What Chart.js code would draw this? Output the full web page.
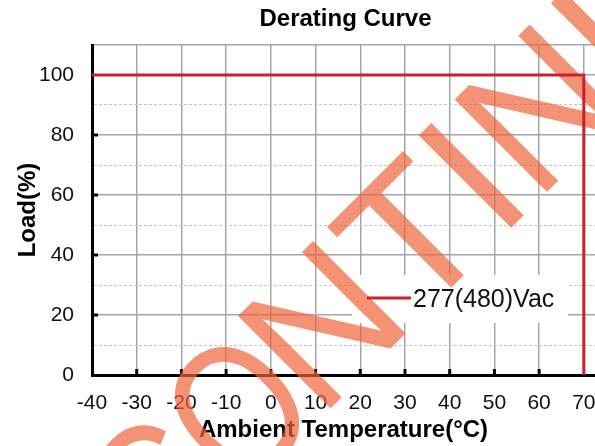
<!DOCTYPE html>
<html>
<head>
<meta charset="utf-8">
<title>Derating Curve</title>
<script src="https://cdn.jsdelivr.net/npm/chart.js@4.4.0/dist/chart.umd.min.js"></script>
<style>
    html, body { margin: 0; padding: 0; background: #fff; }
    #wrap { width: 595px; height: 446px; }
</style>
</head>
<body>
<div id="wrap"><canvas id="deratingChart" width="595" height="446"></canvas></div>
<script>
// Chart data
const temps = [-40, 70, 70];
const loads = [100, 100, 0];
const seriesLabel = '277(480)Vac';

const xTicks = [-40, -30, -20, -10, 0, 10, 20, 30, 40, 50, 60, 70];
const yTicks = [0, 10, 20, 30, 40, 50, 60, 70, 80, 90, 100, 110];
const yLabels = [0, 20, 40, 60, 80, 100];

const chartTitle = 'Derating Curve';
const xTitle = 'Ambient Temperature(°C)';
const yTitle = 'Load(%)';
const watermark = 'DISCONTINUED';

const RED = '#c8202d';
const FONT = '"Liberation Sans", Arial, sans-serif';

// Title, legend box, inner tick marks and the watermark
const decorPlugin = {
    id: 'decor',
    beforeDatasetsDraw(chart) {
        const ctx = chart.ctx;
        const area = chart.chartArea;
        const xs = chart.scales.x;
        const ys = chart.scales.y;

        ctx.save();
        // legend background covers the grid
        ctx.fillStyle = '#fff';
        ctx.fillRect(area.left + 260, area.top + 230, 216, 48);

        // small black ticks pointing into the plot
        ctx.fillStyle = '#000';
        xTicks.forEach(v => {
            if (v === xTicks[0] || v === 70) return;
            const px = xs.getPixelForValue(v);
            ctx.fillRect(px - 1.5, area.bottom - 6, 3, 6);
        });
        yLabels.forEach(v => {
            if (v === 0 || v === 100) return;
            const py = ys.getPixelForValue(v);
            ctx.fillRect(area.left, py - 1.5, 6, 3);
        });

        // title
        ctx.fillStyle = '#000';
        ctx.font = 'bold 24px ' + FONT;
        ctx.textAlign = 'center';
        ctx.textBaseline = 'middle';
        ctx.fillText(chartTitle, (area.left + area.right) / 2 + 2, 19);

        // watermark, anchored on the second "N"
        ctx.translate(536, 203);
        ctx.rotate(-Math.PI / 4);
        ctx.font = '190px ' + FONT;
        ctx.textAlign = 'left';
        ctx.textBaseline = 'alphabetic';
        ctx.fillStyle = 'rgba(240, 100, 60, 0.7)';
        const head = 'DISCO';
        const tail = watermark.slice(head.length);
        const off = ctx.measureText('DISCONTI').width;
        const headW = ctx.measureText(head).width;
        ctx.fillText(tail, -off + headW, 0);
        // first part is a bit narrower in the original
        ctx.translate(-off + headW + 8, 0);
        ctx.scale(0.8, 1);
        ctx.fillText(head, -headW, 0);
        ctx.restore();
    },
    afterDatasetsDraw(chart) {
        const ctx = chart.ctx;
        const area = chart.chartArea;
        const ds = chart.data.datasets[0];
        const lx = area.left + 275;
        const ly = area.top + 253;

        ctx.save();
        ctx.strokeStyle = ds.borderColor;
        ctx.lineWidth = 3;
        ctx.beginPath();
        ctx.moveTo(lx, ly);
        ctx.lineTo(lx + 44, ly);
        ctx.stroke();

        ctx.fillStyle = '#111';
        ctx.font = '25px ' + FONT;
        ctx.textAlign = 'left';
        ctx.textBaseline = 'middle';
        ctx.fillText(ds.label, lx + 46, ly + 2);
        ctx.restore();
    }
};

function initializeDeratingChart() {
    const canvas = document.getElementById('deratingChart');

    new Chart(canvas, {
        type: 'line',
        data: {
            datasets: [{
                label: seriesLabel,
                data: temps.map((t, i) => ({ x: t, y: loads[i] })),
                borderColor: RED,
                borderWidth: 3,
                pointRadius: 0,
                fill: false,
                tension: 0
            }]
        },
        options: {
            responsive: false,
            animation: false,
            layout: {
                padding: { top: 45, left: 0, right: 0, bottom: 0 }
            },
            plugins: {
                legend: { display: false },
                title: { display: false },
                tooltip: { enabled: false }
            },
            scales: {
                x: {
                    type: 'linear',
                    min: -40,
                    max: 72.5,
                    afterBuildTicks: scale => {
                        scale.ticks = xTicks.map(v => ({ value: v }));
                    },
                    afterFit: scale => {
                        scale.height = 71;
                        scale.paddingLeft = 0;
                        scale.paddingRight = 0;
                    },
                    grid: {
                        color: '#a6a6a6',
                        lineWidth: 1.5,
                        drawTicks: false
                    },
                    border: {
                        color: '#000',
                        width: 3
                    },
                    ticks: {
                        color: '#111',
                        padding: 16,
                        maxRotation: 0,
                        font: { family: FONT, size: 21 }
                    },
                    title: {
                        display: true,
                        text: xTitle,
                        color: '#000',
                        padding: { top: 0, bottom: 1 },
                        font: { family: FONT, size: 24, weight: 'bold' }
                    }
                },
                y: {
                    type: 'linear',
                    min: 0,
                    max: 110,
                    afterBuildTicks: scale => {
                        scale.ticks = yTicks.map(v => ({ value: v }));
                    },
                    afterFit: scale => {
                        scale.width = 92;
                    },
                    grid: {
                        color: ctx => (ctx.tick && ctx.tick.value % 20 !== 0 && ctx.tick.value !== 110) ? '#c4c4c4' : '#a6a6a6',
                        lineWidth: ctx => (ctx.tick && ctx.tick.value % 20 !== 0 && ctx.tick.value !== 110) ? 1 : 1.5,
                        drawTicks: false
                    },
                    border: {
                        color: '#000',
                        width: 3,
                        dash: ctx => (ctx.tick && ctx.tick.value % 20 !== 0 && ctx.tick.value !== 110) ? [3, 2] : []
                    },
                    ticks: {
                        color: '#111',
                        padding: 18,
                        font: { family: FONT, size: 21 },
                        callback: v => yLabels.includes(v) ? String(v) : ''
                    },
                    title: {
                        display: true,
                        text: yTitle,
                        color: '#000',
                        padding: { top: 14, bottom: 0 },
                        font: { family: FONT, size: 24, weight: 'bold' }
                    }
                }
            }
        },
        plugins: [decorPlugin]
    });
}

document.addEventListener('DOMContentLoaded', initializeDeratingChart);
</script>
</body>
</html>
